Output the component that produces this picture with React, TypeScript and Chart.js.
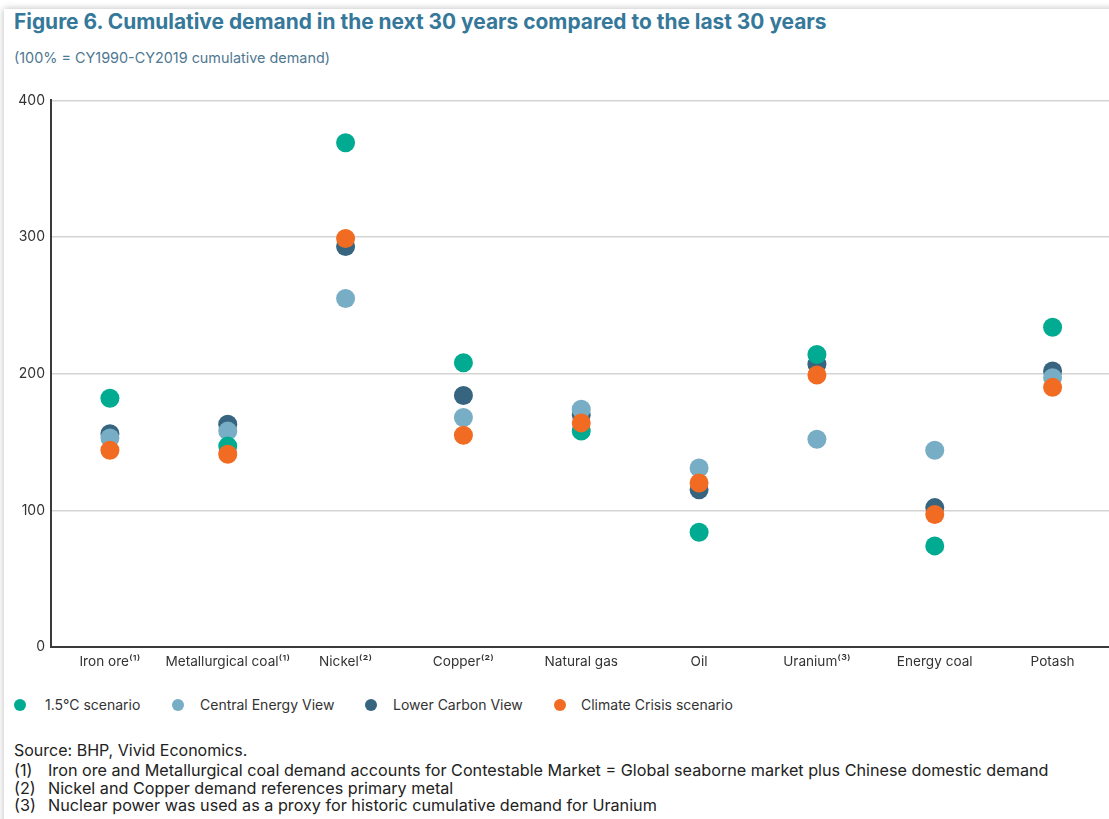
import React, { useEffect, useRef } from "react";
import { Chart, registerables } from "chart.js";

Chart.register(...registerables);

const categories = [
  "Iron ore⁽¹⁾",
  "Metallurgical coal⁽¹⁾",
  "Nickel⁽²⁾",
  "Copper⁽²⁾",
  "Natural gas",
  "Oil",
  "Uranium⁽³⁾",
  "Energy coal",
  "Potash",
];

const scenario15 = [182, 147, 369, 208, 158, 84, 214, 74, 234];
const centralEnergyView = [153, 158, 255, 168, 174, 131, 152, 144, 197];
const lowerCarbonView = [156, 163, 293, 184, 170, 115, 207, 102, 202];
const climateCrisis = [144, 141, 299, 155, 164, 120, 199, 97, 190];

const yMin = 0;
const yMax = 400;
const yStep = 100;

const seriesNames = ["1.5°C scenario", "Central Energy View", "Lower Carbon View", "Climate Crisis scenario"];
const seriesColors = ["#00ab91", "#78adc6", "#37657f", "#f26b22"];

const footnotes = [
  ["(1)", "Iron ore and Metallurgical coal demand accounts for Contestable Market = Global seaborne market plus Chinese domestic demand"],
  ["(2)", "Nickel and Copper demand references primary metal"],
  ["(3)", "Nuclear power was used as a proxy for historic cumulative demand for Uranium"],
];

const FONT = "Inter, 'Noto Sans', Roboto, sans-serif";

export default function App() {
  const canvasRef = useRef<HTMLCanvasElement | null>(null);

  useEffect(() => {
    document.body.style.margin = "0";
    document.body.style.overflow = "hidden";
    const ctx = canvasRef.current;
    if (!ctx) return;
    const seriesData = [scenario15, centralEnergyView, lowerCarbonView, climateCrisis];
    // drawing order: lower carbon bottom, then central, then 1.5, then climate top
    const orders = [1, 2, 3, 0];
    const chart = new Chart(ctx, {
      type: "line",
      data: {
        labels: categories,
        datasets: seriesNames.map((name, i) => ({
          label: name,
          data: seriesData[i],
          showLine: false,
          backgroundColor: seriesColors[i],
          borderColor: seriesColors[i],
          pointBackgroundColor: seriesColors[i],
          pointBorderWidth: 0,
          pointRadius: 9.5,
          pointHoverRadius: 9.5,
          order: orders[i],
        })),
      },
      options: {
        animation: false,
        responsive: false,
        maintainAspectRatio: false,
        layout: { padding: { top: 5, right: 0, left: 0, bottom: 0 } },
        plugins: {
          legend: { display: false },
          tooltip: { enabled: false },
        },
        scales: {
          x: {
            type: "category",
            offset: true,
            grid: { display: false, drawTicks: false },
            border: { display: true, color: "#3a3a3a", width: 2 },
            ticks: {
              color: "#333",
              font: { family: FONT, size: 13.6 },
              padding: 7,
              maxRotation: 0,
              autoSkip: false,
            },
            afterFit: (scale: any) => {
              scale.height = 33;
            },
          },
          y: {
            min: yMin,
            max: yMax,
            ticks: {
              stepSize: yStep,
              color: "#333",
              font: { family: FONT, size: 14 },
              padding: 6,
            },
            grid: { color: "#d4d4d4", lineWidth: 1.5, drawTicks: false },
            border: { display: true, color: "#3a3a3a", width: 2 },
            afterFit: (scale: any) => {
              scale.width = 51;
            },
          },
        },
      },
    });
    return () => chart.destroy();
  }, []);

  return (
    <div style={{ position: "absolute", left: 0, top: 0, width: 1109, height: 819, overflow: "hidden", background: "#fff", fontFamily: FONT }}>
      <div
        style={{
          position: "absolute",
          left: 4,
          top: 9,
          width: 1130,
          height: 840,
          background: "#fff",
          boxShadow: "0 0 7px rgba(0,0,0,0.28)",
        }}
      />
      <div style={{ position: "absolute", left: 14, top: 9, fontSize: 20.9, fontWeight: 700, color: "#35789a", whiteSpace: "nowrap" }}>
        Figure 6. Cumulative demand in the next 30 years compared to the last 30 years
      </div>
      <div style={{ position: "absolute", left: 14, top: 49, fontSize: 14.4, color: "#4f7891", whiteSpace: "nowrap" }}>
        (100% = CY1990-CY2019 cumulative demand)
      </div>
      <canvas ref={canvasRef} width={1121} height={594} style={{ position: "absolute", left: 0, top: 86, width: 1121, height: 594 }} />
      {seriesNames.map((name, i) => {
        const cx = [20, 178, 371, 560][i];
        const tx = [45, 200, 393, 581][i];
        return (
          <React.Fragment key={name}>
            <div style={{ position: "absolute", left: cx - 6, top: 699, width: 12, height: 12, borderRadius: 6, background: seriesColors[i] }} />
            <div style={{ position: "absolute", left: tx, top: 696, fontSize: 14, color: "#333", whiteSpace: "nowrap" }}>{name}</div>
          </React.Fragment>
        );
      })}
      <div style={{ position: "absolute", left: 14, top: 740, fontSize: 16, color: "#222", whiteSpace: "nowrap" }}>
        Source: BHP, Vivid Economics.
      </div>
      {footnotes.map(([num, text], i) => (
        <React.Fragment key={num}>
          <div style={{ position: "absolute", left: 14, top: 761 + i * 17.6, fontSize: 16.2, lineHeight: "19px", color: "#222", whiteSpace: "nowrap" }}>{num}</div>
          <div style={{ position: "absolute", left: 48, top: 761 + i * 17.6, fontSize: 16.2, lineHeight: "19px", color: "#222", whiteSpace: "nowrap" }}>{text}</div>
        </React.Fragment>
      ))}
    </div>
  );
}
